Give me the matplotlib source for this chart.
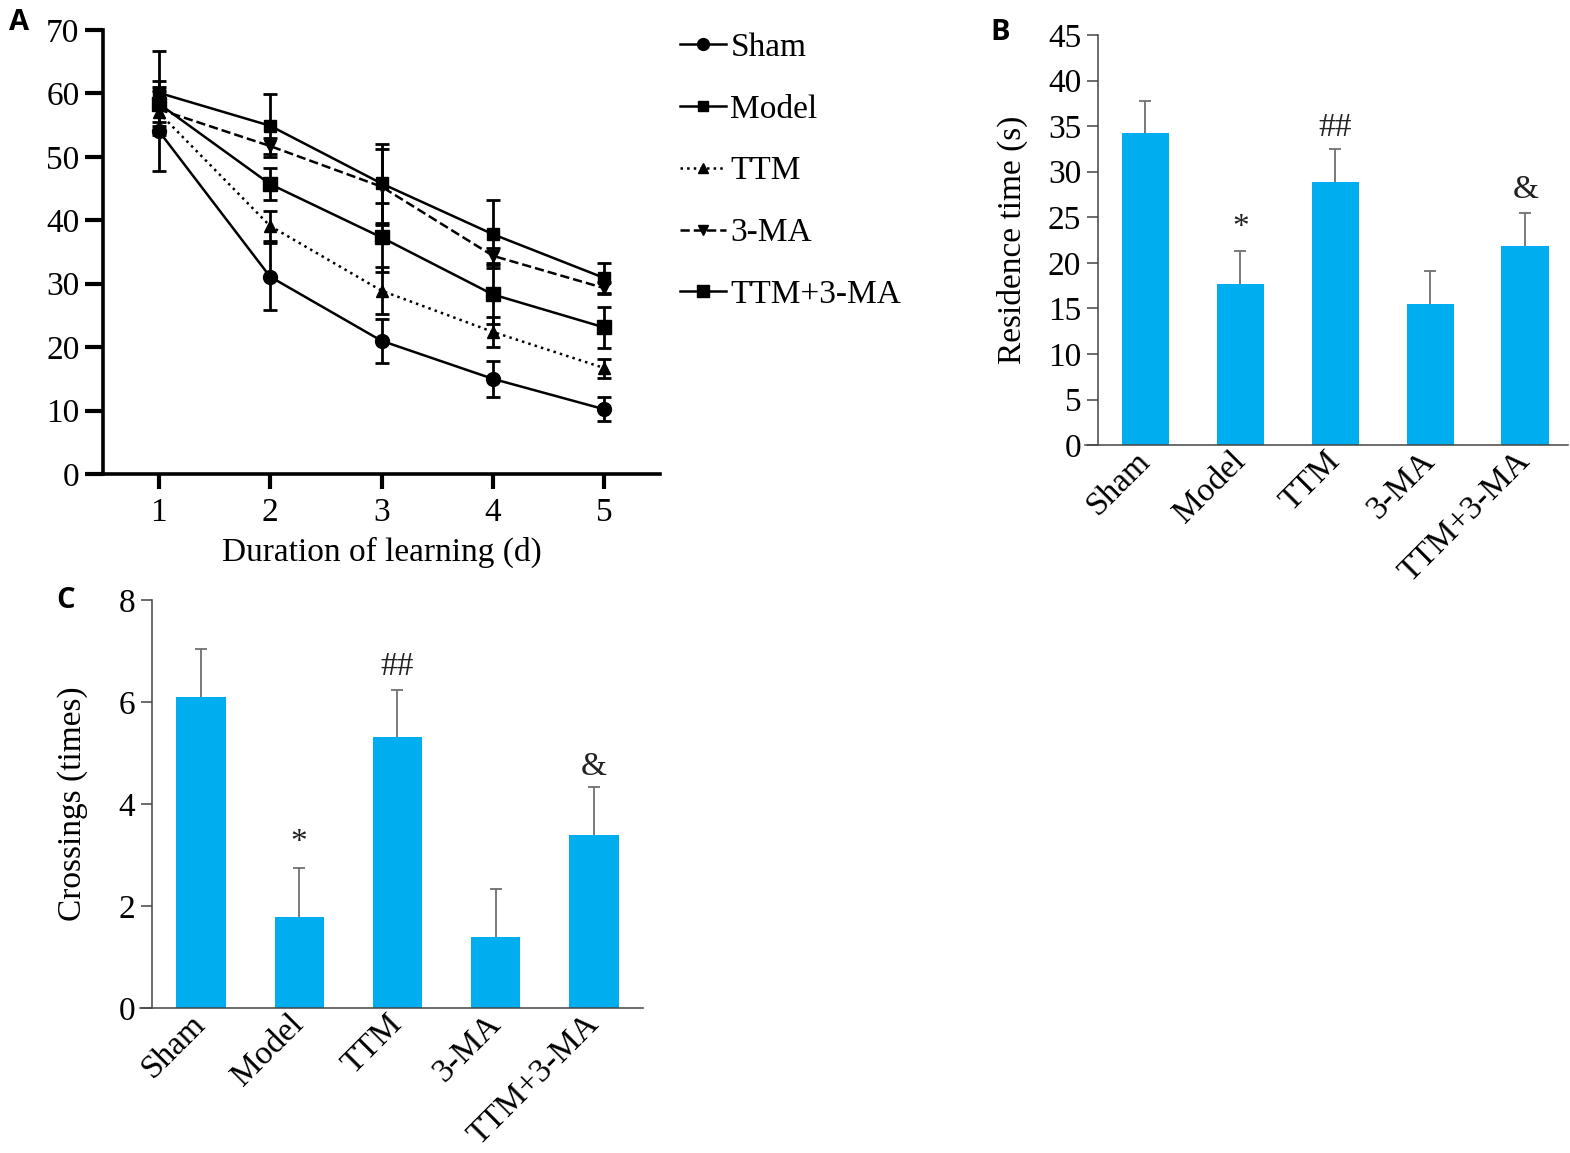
import numpy as np
import matplotlib
matplotlib.use('Agg')
import matplotlib.pyplot as plt

plt.rcParams['font.family'] = ['Liberation Serif', 'DejaVu Serif']

# ---- panel A: escape latency over 5 days (mean, SE)
days = [1, 2, 3, 4, 5]
sham_lat = [54.1, 31.1, 21.0, 15.0, 10.2]
sham_lat_se = [6.3, 5.3, 3.5, 2.8, 1.9]
model_lat = [60.1, 54.9, 45.8, 37.8, 30.9]
model_lat_se = [6.6, 5.0, 6.3, 5.4, 2.3]
ttm_lat = [57.0, 39.1, 28.9, 22.4, 16.7]
ttm_lat_se = [1.5, 2.4, 3.7, 2.3, 1.5]
ma_lat = [57.5, 51.7, 45.3, 34.4, 29.3]
ma_lat_se = [3.5, 1.2, 6.0, 1.2, 1.0]
combo_lat = [58.4, 45.7, 37.3, 28.3, 23.1]
combo_lat_se = [3.5, 2.5, 5.5, 4.7, 3.3]

# ---- panels B, C
groups = ['Sham', 'Model', 'TTM', '3-MA', 'TTM+3-MA']
residence = [34.2, 17.7, 28.9, 15.5, 21.9]
residence_se = [3.6, 3.6, 3.6, 3.6, 3.6]
crossings = [6.10, 1.79, 5.31, 1.40, 3.40]
crossings_se = [0.93, 0.95, 0.93, 0.93, 0.94]
marks = ['', '*', '##', '', '&']
residence_mark_y = [0, 23.8, 34.8, 0, 28.0]
crossings_mark_y = [0, 3.24, 6.69, 0, 4.73]

BLUE = '#00AEEF'
FS = 24

fig = plt.figure(figsize=(15.7, 11.53), dpi=100)

# ================= A
axA = fig.add_axes([0.0656, 0.5889, 0.3548, 0.3851])
series = [
    ('Sham', sham_lat, sham_lat_se, '-', 'o', 10),
    ('Model', model_lat, model_lat_se, '-', 's', 9),
    ('TTM', ttm_lat, ttm_lat_se, ':', '^', 9),
    ('3-MA', ma_lat, ma_lat_se, '--', 'v', 9),
    ('TTM+3-MA', combo_lat, combo_lat_se, '-', 's', 10),
]
handles = []
for name, y, se, ls, mk, ms in series:
    axA.errorbar(days, y, yerr=se, fmt='none', ecolor='black', elinewidth=2,
                 capsize=5, capthick=2, zorder=2)
    ln, = axA.plot(days, y, color='black', linestyle=ls, linewidth=1.8,
                   marker=mk, markersize=ms, zorder=3, label=name)
    handles.append(ln)

axA.set_xlim(0.5, 5.5)
axA.set_ylim(0, 70)
axA.set_xticks(days)
axA.set_yticks(range(0, 71, 10))
axA.spines['top'].set_visible(False)
axA.spines['right'].set_visible(False)
for s in ['left', 'bottom']:
    axA.spines[s].set_linewidth(2.6)
axA.tick_params(axis='y', direction='out', length=13, width=3, labelsize=FS, pad=4)
axA.tick_params(axis='x', direction='out', length=11, width=3, labelsize=FS, pad=6)
axA.set_xlabel('Duration of learning (d)', fontsize=FS, labelpad=6)

leg = fig.legend(handles=handles, loc='upper left', bbox_to_anchor=(0.433, 0.972),
                 frameon=False, fontsize=FS, handlelength=1.4, handletextpad=0.12,
                 labelspacing=0.94, borderpad=0, borderaxespad=0, markerscale=0.85)

# ================= bar panels
def bar_panel(rect, vals, se, ylim, yticks, ylabel, mark_y, xlim, labelpad):
    ax = fig.add_axes(rect)
    x = np.arange(len(groups))
    ax.bar(x, vals, width=0.5, color=BLUE, zorder=2)
    eb = ax.errorbar(x, vals, yerr=[np.zeros(len(se)), se], fmt='none', ecolor='#707070',
                     elinewidth=1.3, capsize=4, capthick=1.3, zorder=1)
    eb[1][0].set_visible(False)  # hide the lower caps
    for xi, m, my in zip(x, marks, mark_y):
        if m:
            ax.text(xi, my, m, ha='center', va='center', fontsize=FS, color='#222222')
    ax.set_xlim(*xlim)
    ax.set_ylim(*ylim)
    ax.set_yticks(yticks)
    ax.set_xticks(x)
    ax.set_xticklabels(groups, rotation=45, ha='right', va='center',
                       rotation_mode='anchor')
    ax.spines['top'].set_visible(False)
    ax.spines['right'].set_visible(False)
    ax.spines['left'].set_position(('data', -0.5))
    for s in ['left', 'bottom']:
        ax.spines[s].set_linewidth(1.1)
        ax.spines[s].set_color('#444444')
    ax.tick_params(axis='y', direction='out', length=8, width=1.1, color='#444444',
                   labelsize=FS, pad=4)
    ax.tick_params(axis='x', length=0, labelsize=FS, pad=8)
    ax.set_ylabel(ylabel, fontsize=FS, labelpad=labelpad)
    return ax

bar_panel([0.6911, 0.6140, 0.3076, 0.3556], residence, residence_se, (0, 45),
          range(0, 46, 5), 'Residence time (s)', residence_mark_y, (-0.636, 4.45), 14)
bar_panel([0.0892, 0.1258, 0.3204, 0.3539], crossings, crossings_se, (0, 8),
          range(0, 9, 2), 'Crossings (times)', crossings_mark_y, (-0.62, 4.5), 22)

# panel letters
for lbl, px, py in [('A', 19, 22), ('B', 1000, 33), ('C', 66, 600)]:
    fig.text(px / 1570, 1 - py / 1153, lbl, fontsize=21, fontweight='bold',
             family=['Open Sans', 'DejaVu Sans'], ha='center', va='center')

fig.savefig('out.png', dpi=100)
